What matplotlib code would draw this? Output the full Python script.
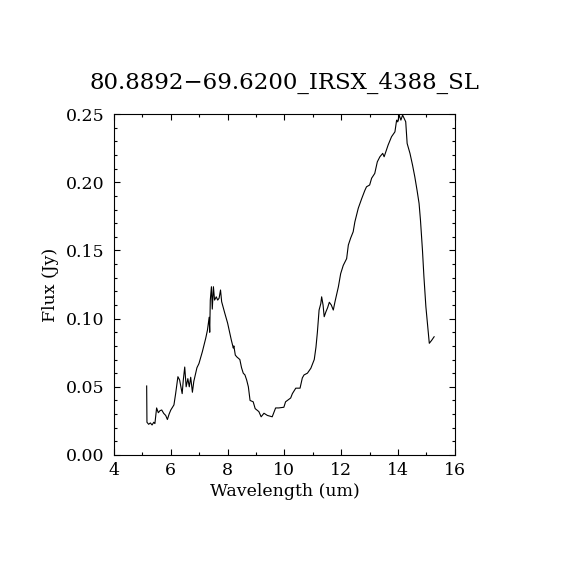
import matplotlib
matplotlib.use("Agg")
import matplotlib.pyplot as plt
from matplotlib.ticker import MultipleLocator, FormatStrFormatter

# spectrum
wavelength = [
    5.15, 5.16, 5.22, 5.28, 5.34, 5.40, 5.44, 5.50, 5.56, 5.62,
    5.68, 5.75, 5.82, 5.88, 5.94, 6.00, 6.11, 6.17, 6.25, 6.31,
    6.40, 6.44, 6.49, 6.54, 6.60, 6.65, 6.70, 6.76, 6.81, 6.92,
    6.99, 7.11, 7.23, 7.29, 7.35, 7.37, 7.39, 7.43, 7.46, 7.50,
    7.54, 7.60, 7.65, 7.70, 7.75, 7.79, 7.90, 8.00, 8.13, 8.20,
    8.22, 8.27, 8.32, 8.43, 8.49, 8.55, 8.61, 8.67, 8.73, 8.79,
    8.90, 8.97, 9.10, 9.18, 9.28, 9.40, 9.57, 9.69, 9.80, 9.98,
    10.04, 10.22, 10.28, 10.40, 10.55, 10.63, 10.69, 10.81, 10.93, 11.05,
    11.11, 11.16, 11.22, 11.28, 11.31, 11.36, 11.40, 11.46, 11.52, 11.58,
    11.65, 11.72, 11.78, 11.86, 11.90, 11.98, 12.07, 12.19, 12.25, 12.33,
    12.42, 12.48, 12.60, 12.72, 12.83, 12.89, 13.00, 13.07, 13.18, 13.27,
    13.36, 13.46, 13.51, 13.57, 13.65, 13.77, 13.89, 13.95, 13.99, 14.04,
    14.10, 14.16, 14.27, 14.32, 14.42, 14.51, 14.59, 14.67, 14.74, 14.79,
    14.86, 14.91, 14.98, 15.10, 15.18, 15.27,
]
flux = [
    0.0506, 0.0240, 0.0225, 0.0235, 0.0220, 0.0240, 0.0230, 0.0345, 0.0310, 0.0325,
    0.0330, 0.0305, 0.0290, 0.0260, 0.0300, 0.0330, 0.0367, 0.0450, 0.0574, 0.0550,
    0.0450, 0.0550, 0.0645, 0.0500, 0.0560, 0.0500, 0.0570, 0.0460, 0.0540, 0.0640,
    0.0670, 0.0757, 0.0857, 0.0916, 0.1010, 0.0900, 0.1136, 0.1234, 0.1070, 0.1234,
    0.1136, 0.1160, 0.1136, 0.1150, 0.1210, 0.1124, 0.1040, 0.0967, 0.0843, 0.0784,
    0.0800, 0.0733, 0.0720, 0.0700, 0.0640, 0.0600, 0.0587, 0.0550, 0.0500, 0.0400,
    0.0390, 0.0340, 0.0318, 0.0280, 0.0306, 0.0290, 0.0280, 0.0345, 0.0345, 0.0350,
    0.0390, 0.0418, 0.0450, 0.0490, 0.0490, 0.0565, 0.0587, 0.0600, 0.0636, 0.0700,
    0.0790, 0.0900, 0.1063, 0.1110, 0.1160, 0.1100, 0.1014, 0.1050, 0.1080, 0.1120,
    0.1100, 0.1063, 0.1124, 0.1197, 0.1234, 0.1330, 0.1390, 0.1440, 0.1540, 0.1590,
    0.1637, 0.1710, 0.1810, 0.1880, 0.1940, 0.1967, 0.1980, 0.2030, 0.2065, 0.2150,
    0.2187, 0.2212, 0.2187, 0.2224, 0.2273, 0.2334, 0.2370, 0.2456, 0.2443, 0.2493,
    0.2456, 0.2493, 0.2444, 0.2285, 0.2212, 0.2126, 0.2040, 0.1940, 0.1845, 0.1720,
    0.1500, 0.1310, 0.1087, 0.0819, 0.0840, 0.0867,
]

title = "80.8892\u221269.6200_IRSX_4388_SL"

plt.rcParams["font.family"] = ["DejaVu Serif"]

fig = plt.figure(figsize=(5.7, 5.7), dpi=100)
ax = fig.add_axes([0.2, 0.2018, 0.598, 0.598])

ax.plot(wavelength, flux, color="black", linewidth=0.8)

ax.set_xlim(4, 16)
ax.set_ylim(0, 0.25)

ax.xaxis.set_major_locator(MultipleLocator(2))
ax.xaxis.set_minor_locator(MultipleLocator(1))
ax.yaxis.set_major_locator(MultipleLocator(0.05))
ax.yaxis.set_minor_locator(MultipleLocator(0.01))
ax.yaxis.set_major_formatter(FormatStrFormatter("%.2f"))

ax.tick_params(which="both", direction="in", top=True, right=True,
               width=0.8, labelsize=12.5, colors="black")
ax.tick_params(which="major", length=4)
ax.tick_params(which="minor", length=2)
ax.tick_params(axis="x", pad=5)
ax.tick_params(axis="y", pad=7)

for side in ax.spines.values():
    side.set_linewidth(0.8)

ax.set_xlabel("Wavelength (um)", fontsize=12.5, labelpad=3)
ax.set_ylabel("Flux (Jy)", fontsize=12.5, labelpad=5)
ax.set_title(title, fontsize=16.5, pad=18)

fig.savefig("out.png", dpi=100)
